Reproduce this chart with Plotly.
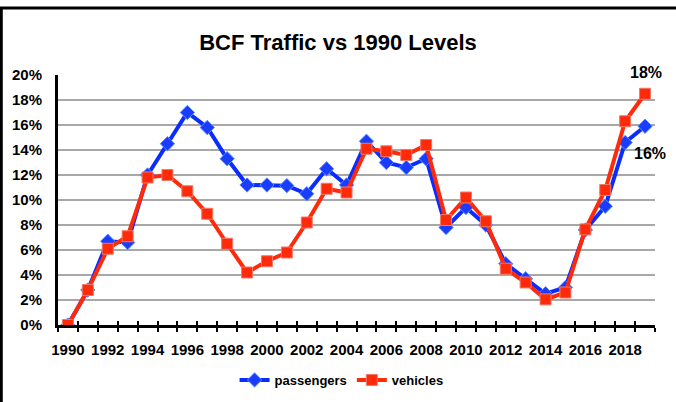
import plotly.graph_objects as go

years = list(range(1990, 2020))
passengers = [0.0, 2.8, 6.7, 6.6, 12.0, 14.5, 17.0, 15.8, 13.3, 11.2,
              11.2, 11.15, 10.5, 12.5, 11.2, 14.7, 13.0, 12.6, 13.3, 7.8,
              9.4, 8.0, 4.9, 3.7, 2.5, 3.0, 7.6, 9.5, 14.6, 15.9]
vehicles = [0.0, 2.8, 6.1, 7.1, 11.8, 12.0, 10.7, 8.9, 6.5, 4.2,
            5.1, 5.8, 8.2, 10.9, 10.6, 14.1, 13.9, 13.6, 14.4, 8.4,
            10.2, 8.3, 4.5, 3.4, 2.05, 2.6, 7.65, 10.8, 16.3, 18.5]
year_labels = [str(y) for y in range(1990, 2020, 2)]
y_ticks = list(range(0, 21, 2))

font = "Arial, Liberation Sans, sans-serif"

fig = go.Figure()

# passengers
fig.add_trace(go.Scatter(
    x=years, y=passengers, name='passengers', mode='lines+markers',
    line=dict(color='#0b2cff', width=4),
    marker=dict(symbol='diamond', size=11, color='#1a3cff',
                line=dict(color='#5a8cff', width=1))
))
# vehicles
fig.add_trace(go.Scatter(
    x=years, y=vehicles, name='vehicles', mode='lines+markers',
    line=dict(color='#ff2a0a', width=4),
    marker=dict(symbol='square', size=11, color='#ff2a0a',
                line=dict(color='#f07a6a', width=1))
))

# end labels
fig.add_annotation(x=years[-1], y=vehicles[-1], text=f"{round(vehicles[-1]):d}%",
                   showarrow=False, xshift=1, yshift=21,
                   font=dict(family=font, size=16, color='black', weight='bold'))
fig.add_annotation(x=years[-1], y=passengers[-1], text=f"{round(passengers[-1]):d}%",
                   showarrow=False, xshift=5, yshift=-27,
                   font=dict(family=font, size=16, color='black', weight='bold'))

# chart frame (only left and top edges fall inside the picture)
fig.add_shape(type='rect', xref='paper', yref='paper', x0=-0.095, x1=1.2, y0=-0.6, y1=1.268,
              line=dict(color='black', width=3), layer='below')

fig.update_layout(
    width=676, height=402,
    margin=dict(l=58, r=21, t=75, b=77, autoexpand=False),
    paper_bgcolor='white', plot_bgcolor='white',
    title=dict(text="<b>BCF Traffic vs 1990 Levels</b>", x=0.5, xanchor='center',
               y=0.895, yanchor='middle',
               font=dict(family=font, size=22, color='black')),
    font=dict(family=font, color='black'),
    showlegend=True,
    legend=dict(orientation='h', x=0.475, xanchor='center', y=-0.22, yanchor='middle',
                font=dict(family=font, size=13, color='black', weight='bold'),
                itemwidth=30),
    xaxis=dict(
        range=[1989.5, 2019.5], tickvals=[int(v) for v in year_labels], ticktext=year_labels,
        ticks='outside', ticklen=9, tickcolor='rgba(0,0,0,0)',
        showgrid=False, zeroline=False, automargin=False,
        showline=True, linecolor='black', linewidth=3,
        tickfont=dict(family=font, size=15, color='black', weight='bold'),
        minor=dict(tick0=1989.5, dtick=1, ticks='outside', ticklen=4, tickwidth=2,
                   tickcolor='black', showgrid=False),
    ),
    xaxis2=dict(
        range=[1989.5, 2019.5], overlaying='x', anchor='y', side='bottom',
        tick0=1989.5, dtick=1, ticks='inside', ticklen=4, tickwidth=2, tickcolor='black',
        showticklabels=False, showgrid=False, zeroline=False, automargin=False,
    ),
    yaxis=dict(
        range=[0, 20], tickvals=y_ticks, ticktext=[f"{v}%" for v in y_ticks],
        showgrid=True, gridcolor='#a8a8a8', gridwidth=1.5, zeroline=False,
        showline=True, linecolor='black', linewidth=3, automargin=False,
        ticks='outside', ticklen=10, tickcolor='rgba(0,0,0,0)',
        tickfont=dict(family=font, size=15, color='black', weight='bold'),
    ),
)
# invisible trace so the second x axis (inner tick marks) is drawn
fig.add_trace(go.Scatter(x=[years[0]], y=[passengers[0]], xaxis='x2', mode='markers',
                         marker=dict(opacity=0), showlegend=False, hoverinfo='skip'))

fig.write_html("out.html", config={'displayModeBar': False},
               post_script="document.body.style.margin='0';")
